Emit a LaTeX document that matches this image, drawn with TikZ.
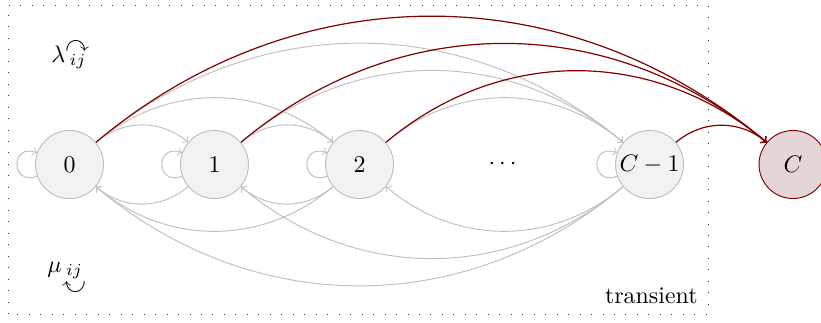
\documentclass[tikz,border=0pt]{standalone}
\usepackage{amsmath,amssymb}
\definecolor{cfill}{RGB}{228,214,214}
\colorlet{dred}{red!50!black}
\begin{document}
\begin{tikzpicture}[x=0.41841pt,y=0.41841pt,
  state/.style={circle,draw=gray!50,fill=gray!10,minimum size=1cm,inner sep=0pt},
  absorb/.style={circle,draw=dred,fill=cfill,minimum size=1cm,inner sep=0pt},
  tr/.style={->,gray!50,bend left=40},
  ab/.style={->,dred,bend left=40,line width=0.5pt},
  selfloop/.style={->,gray!50,out=200,in=160,looseness=3.1}]
\useasboundingbox (0,0) rectangle (821,322);
\draw[black!80,dash pattern=on 0.4pt off 4.4pt] (8,8) rectangle (708,317);
\node[state] (n0) at (69.5,157.5) {$0$};
\node[state] (n1) at (214.5,157.5) {$1$};
\node[state] (n2) at (359.5,157.5) {$2$};
\node (dots) at (504.5,157.5) {$\cdots$};
\node[state] (nc1) at (649.5,157.5) {$C-1$};
\node[absorb] (nc) at (793,157.5) {$C$};
\node[anchor=base east,inner sep=0pt] (tl) at (698,19) {transient};
\node[anchor=base west,inner sep=0pt] (lam) at (51,260) {$\lambda_{\smash{\overset{\textstyle\curvearrowright}{ij}}}$};
\node[anchor=base west,inner sep=0pt] (mu) at (47,50) {$\mu_{\underset{\rotatebox[origin=c]{180}{$\curvearrowright$}}{ij}}$};
% forward transitions
\draw[tr] (n0) to (n1);
\draw[tr] (n0) to (n2);
\draw[tr] (n0) to (nc1);
\draw[tr] (n1) to (n2);
\draw[tr] (n1) to (nc1);
\draw[tr] (n2) to (nc1);
% backward transitions
\draw[tr] (n1) to (n0);
\draw[tr] (n2) to (n0);
\draw[tr] (nc1) to (n0);
\draw[tr] (n2) to (n1);
\draw[tr] (nc1) to (n1);
\draw[tr] (nc1) to (n2);
% self loops
\draw[selfloop] (n0) to (n0);
\draw[selfloop] (n1) to (n1);
\draw[selfloop] (n2) to (n2);
\draw[selfloop] (nc1) to (nc1);
% absorption
\draw[ab] (n0) to (nc);
\draw[ab] (n1) to (nc);
\draw[ab] (n2) to (nc);
\draw[ab] (nc1) to (nc);
\end{tikzpicture}
\end{document}
